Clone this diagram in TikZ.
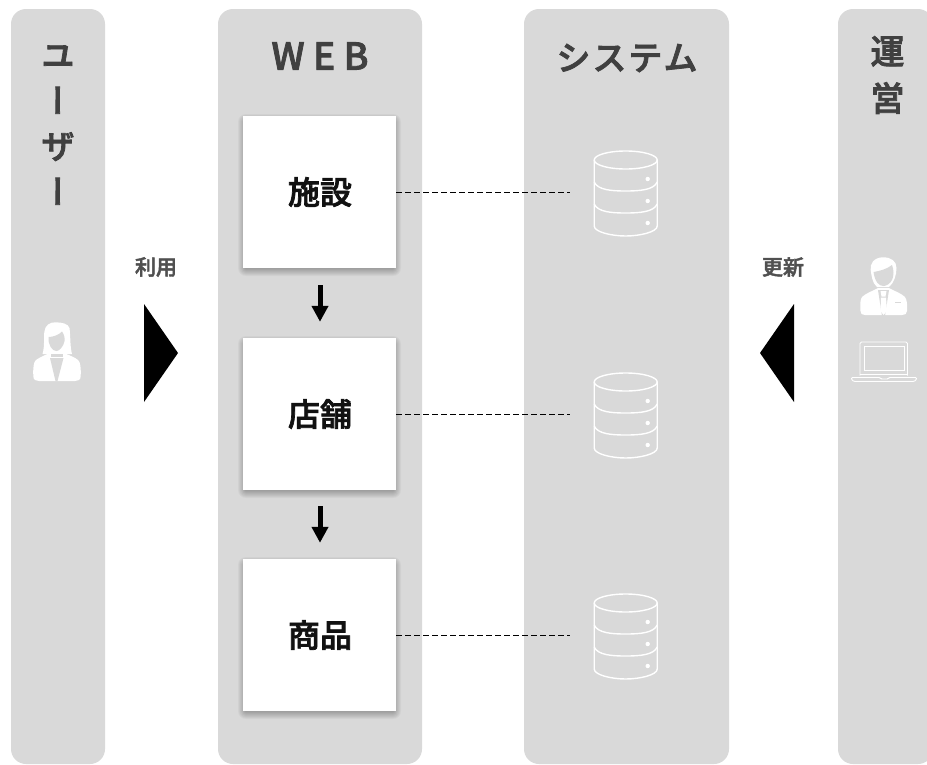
\documentclass[tikz,border=0pt]{standalone}
\usepackage{fontspec}
\setmainfont{Noto Sans CJK JP}[BoldFont={Noto Sans CJK JP Medium},BoldFeatures={FakeBold=2.2}]
\newfontfamily\vertfont{Noto Sans CJK JP}[BoldFont={Noto Sans CJK JP Medium},BoldFeatures={FakeBold=2.2},RawFeature=+vert]
\newfontfamily\spacedfont{Noto Sans CJK JP}[BoldFont={Noto Sans CJK JP Medium},BoldFeatures={FakeBold=2.2},LetterSpace=23]
\newfontfamily\kanafont{Noto Sans CJK JP}[BoldFont={Noto Sans CJK JP Medium},BoldFeatures={FakeBold=2.2},LetterSpace=6]
\usetikzlibrary{arrows.meta,calc}
\definecolor{panelgray}{HTML}{D9D9D9}
\definecolor{headtext}{HTML}{404040}
\definecolor{labeltext}{HTML}{505050}
\definecolor{boxtext}{HTML}{111111}
\tikzset{
  panel/.style={fill=panelgray,draw=none,rounded corners=15pt},
  headlabel/.style={text=headtext,font=\fontsize{34}{47}\selectfont\bfseries,align=center,inner sep=0pt},
  weblabel/.style={text=headtext,font=\fontsize{37}{47}\selectfont\bfseries,align=center,inner sep=0pt},
  vertlabel/.style={text=headtext,font=\vertfont\fontsize{34}{45.5}\selectfont\bfseries,align=center,inner sep=0pt},
  flowlabel/.style={text=labeltext,font=\fontsize{21}{24}\selectfont\bfseries,inner sep=0pt},
  pagebox/.style={fill=white,draw=none,minimum width=153pt,minimum height=152pt,inner sep=0pt,text=boxtext,font=\fontsize{32}{38}\selectfont\bfseries},
  dashlink/.style={draw=black,line width=1pt,dash pattern=on 6pt off 3pt},
  steparrow/.style={draw=black,line width=5pt,-{Triangle[length=16pt,width=16pt]}},
  iconline/.style={draw=white,line width=1.4pt,fill=none},
  dbicon/.pic={
    \draw[iconline] (-31.5,-32) arc[start angle=180,end angle=-180,x radius=31.5,y radius=9];
    \draw[iconline] (-31.5,-32) -- (-31.5,34) .. controls (-31.5,40) and (-14,44) .. (0,44) .. controls (14,44) and (31.5,40) .. (31.5,34) -- (31.5,-32);
    \draw[iconline] (-31.5,-10) .. controls (-28,-2) and (-14,-1) .. (0,-1) .. controls (14,-1) and (28,-2) .. (31.5,-10);
    \draw[iconline] (-31.5,12) .. controls (-28,20) and (-14,21) .. (0,21) .. controls (14,21) and (28,20) .. (31.5,12);
    \fill[white] (22,-13) circle (2.2) (22,9) circle (2.2) (22,31) circle (2.2);
  }
}
\newcommand{\softshadow}[4]{%
  \foreach \e in {8,7,6,5,4,3,2,1,0}{
    \fill[black,opacity=.035,rounded corners=\e pt] (#1-\e+3,#2-\e+6) rectangle (#3+\e-3,#4+\e);
  }%
}
\begin{document}
\begin{tikzpicture}[x=1pt,y=-1pt]
\useasboundingbox (0,0) rectangle (927,764);
\clip (0,0) rectangle (927,764);
\fill[white] (0,0) rectangle (927,764);
% panels
\path[panel] (11,9) rectangle (105,764);
\path[panel] (218,9) rectangle (422,764);
\path[panel] (524,9) rectangle (729,764);
\path[panel] (838,9) rectangle (933,764);
% headings
\node[vertlabel] (huser) at (58,125) {ユ\\ー\\ザ\\ー};
\node[weblabel] (hweb) at (320,56) {\spacedfont\bfseries WEB};
\node[headlabel] (hsys) at (627,58) {\kanafont\bfseries システム};
\node[headlabel] (hops) at (887.5,75) {運\\営};
% shadows and pages
\softshadow{243}{116}{396}{268}
\softshadow{243}{338}{396}{490}
\softshadow{243}{559}{396}{711}
\node[pagebox] (shisetsu) at (319.5,192) {\raisebox{1.5pt}{\hspace{1pt}施設}};
\node[pagebox] (tenpo) at (319.5,414) {\raisebox{1.5pt}{\hspace{1pt}店舗}};
\node[pagebox] (shohin) at (319.5,635) {\raisebox{1.5pt}{\hspace{1pt}商品}};
% step arrows
\draw[steparrow] ($(shisetsu.south)+(.5,17)$) -- ($(tenpo.north)+(.5,-16)$);
\draw[steparrow] ($(tenpo.south)+(.5,16)$) -- ($(shohin.north)+(.5,-16)$);
% databases
\pic at (625.7,192) {dbicon};
\pic at (625.7,414) {dbicon};
\pic at (625.7,635) {dbicon};
\coordinate (db1) at (570,192);
\coordinate (db2) at (570,414);
\coordinate (db3) at (570,635);
\draw[dashlink] (shisetsu.east) -- (db1);
\draw[dashlink] (tenpo.east) -- (db2);
\draw[dashlink] (shohin.east) -- (db3);
% flow labels and triangles
\node[flowlabel] (riyou) at (156,267) {利用};
\node[flowlabel] (koushin) at (783,267) {更新};
\fill[black] (144,304) -- (178,353) -- (144,402) -- cycle;
\fill[black] (794,304) -- (760,353) -- (794,402) -- cycle;
% woman
\fill[white] (42.5,354) .. controls (45,345) and (43.5,338) .. (44.3,332) .. controls (45,325) and (50,322) .. (56,322.3) .. controls (62,322.5) and (68,323.5) .. (69.5,328) .. controls (70.5,335) and (70,347) .. (72,354) -- cycle;
\fill[panelgray] (48.5,337) .. controls (53,337) and (59,335) .. (62,331.5) .. controls (64,334) and (65,338) .. (64.5,341) .. controls (63.5,347) and (59,351) .. (56.5,351) .. controls (52,351) and (48,345) .. (48.5,337) -- cycle;
\fill[white] (33.3,376) .. controls (33,368) and (33.5,362) .. (36,360) .. controls (40,357) and (46,355) .. (50,352.5) -- (63,352.5) .. controls (68,355) and (75,357) .. (78,360) .. controls (80.5,362) and (81,368) .. (80.7,376) .. controls (80.7,380) and (78,381) .. (75,381) -- (39,381) .. controls (36,381) and (33.3,380) .. (33.3,376) -- cycle;
\fill[panelgray] (50.5,354) -- (63,354) -- (63,356.5) -- (50.5,356.5) -- cycle;
\fill[panelgray] (50,358) -- (63.5,358) -- (57.5,381) -- (55.5,381) -- cycle;
% man
\fill[white] (883,257.3) .. controls (874,257.3) and (869.5,264) .. (870.7,270) .. controls (871.5,275) and (872,283) .. (877,287) -- (889,287) .. controls (894,283) and (896.5,275) .. (896.5,268) .. controls (896.5,261) and (891,257.3) .. (883,257.3) -- cycle;
\fill[panelgray] (873.5,272) .. controls (880,271) and (887,269) .. (892,265) .. controls (894,270) and (894,276) .. (892,280) .. controls (890,284) and (886,286) .. (883.5,286) .. controls (879,286) and (875,282) .. (873.5,272) -- cycle;
\fill[white] (860.5,311) .. controls (860,305) and (860,300) .. (862,297) .. controls (866,293) and (873,291) .. (878,288) -- (889,288) .. controls (894,291) and (901,293) .. (905,297) .. controls (907,300) and (907.5,305) .. (907,311) .. controls (907,314) and (905,315) .. (902,315) -- (865,315) .. controls (862,315) and (860.5,314) .. (860.5,311) -- cycle;
\fill[panelgray] (878,290) -- (889,290) -- (885,316) -- (882,316) -- cycle;
\fill[white] (880.5,291) -- (886.5,291) -- (885.5,296.5) -- (881.5,296.5) -- cycle;
\fill[white] (881,297.5) -- (886,297.5) -- (887,311) -- (883.5,315) -- (880.5,311) -- cycle;
\draw[panelgray,line width=1.2pt] (895,302.3) -- (901,302.3);
% laptop
\draw[draw=white,line width=.9pt,rounded corners=1.5pt] (860,375.5) -- (860,342) -- (907.5,342) -- (907.5,375.5);
\draw[draw=white,line width=.9pt] (864,346) rectangle (904,370.5);
\draw[draw=white,line width=.9pt] (860,374.3) -- (907.5,374.3);
\draw[draw=white,line width=.9pt,rounded corners=1pt] (851.5,377.5) -- (880,377.5) -- (881,379) -- (888,379) -- (889,377.5) -- (916.5,377.5) -- (916.5,379.5) -- (914,381.5) -- (854,381.5) -- (851.5,379.5) -- cycle;
\end{tikzpicture}
\end{document}
